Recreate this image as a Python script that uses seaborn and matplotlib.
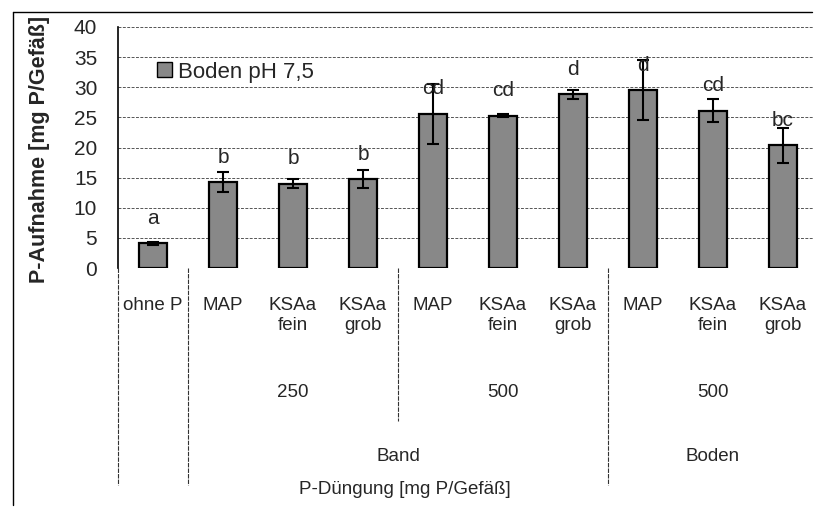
import pandas as pd
import seaborn as sns
import matplotlib.pyplot as plt
from matplotlib.lines import Line2D

# values
keys = ["ohneP", "MAP250", "fein250", "grob250", "MAP500", "fein500", "grob500",
        "MAPBoden", "feinBoden", "grobBoden"]
cat_labels = ["ohne P", "MAP", "KSAa\nfein", "KSAa\ngrob", "MAP", "KSAa\nfein",
              "KSAa\ngrob", "MAP", "KSAa\nfein", "KSAa\ngrob"]
uptake = [4.1, 14.3, 14.0, 14.8, 25.6, 25.3, 28.8, 29.5, 26.1, 20.4]
err = [0.2, 1.7, 0.7, 1.5, 5.0, 0.3, 0.8, 5.0, 1.9, 2.9]
letters = ["a", "b", "b", "b", "cd", "cd", "d", "d", "cd", "bc"]

rate_labels = ["250", "500", "500"]
rate_pos = [2, 5, 8]
place_labels = ["Band", "Boden"]
place_pos = [3.5, 8]

df = pd.DataFrame({"key": keys, "value": uptake})

sns.set_style("white")
plt.rcParams['font.family'] = ['Liberation Sans', 'DejaVu Sans']

fig = plt.figure(figsize=(8.14, 5.13), dpi=100)
ax = fig.add_axes([118 / 814, 245 / 513, 700 / 814, 241 / 513])

sns.barplot(data=df, x="key", y="value", color="#888888", saturation=1,
            width=0.4, edgecolor="black", linewidth=1.6, errorbar=None, ax=ax)
ax.errorbar(range(len(uptake)), uptake, yerr=err, fmt="none", ecolor="black",
            elinewidth=1.5, capsize=4, capthick=1.5, zorder=5)

for i, (v, l) in enumerate(zip(uptake, letters)):
    ax.annotate(l, (i, v), xytext=(0, 11), textcoords="offset points",
                ha="center", va="bottom", fontsize=15, zorder=6)

ax.set_ylim(0, 40)
ax.set_xlim(-0.5, 9.5)
ax.set_yticks(range(0, 41, 5))
ax.yaxis.grid(True, linestyle=(0, (3, 1.5)), color="#555555", linewidth=0.7)
ax.set_axisbelow(True)
for s in ["top", "right", "bottom"]:
    ax.spines[s].set_visible(False)
ax.spines["left"].set_linewidth(1.2)
ax.spines["left"].set_color("black")

ax.set_xticks(range(len(cat_labels)))
ax.set_xticklabels(cat_labels, fontsize=13.5, linespacing=1.25)
ax.tick_params(axis="x", length=0, pad=21)
ax.tick_params(axis="y", length=0, pad=15, labelsize=15)
ax.set_xlabel("")
ax.set_ylabel("P-Aufnahme [mg P/Gefäß]", fontsize=15.5, fontweight="bold")
ax.yaxis.set_label_coords(-0.097, 0.49)

# separator lines of the grouped category axis
xt = ax.get_xaxis_transform()
for xb, y_end in [(-0.5, -0.90), (0.5, -0.90), (3.5, -0.635), (6.5, -0.90)]:
    ax.plot([xb, xb], [0, y_end], transform=xt, color="#333333", lw=0.8,
            linestyle=(0, (4, 1)), clip_on=False)

for t, x in zip(rate_labels, rate_pos):
    ax.text(x, -0.515, t, transform=xt, ha="center", va="center", fontsize=13.5)
for t, x in zip(place_labels, place_pos):
    ax.text(x, -0.784, t, transform=xt, ha="center", va="center", fontsize=13.5)
ax.text(3.6, -0.921, "P-Düngung [mg P/Gefäß]", transform=xt, ha="center",
        va="center", fontsize=13.5)

leg = ax.legend(handles=[plt.Rectangle((0, 0), 1, 1, facecolor="#888888",
                                       edgecolor="black", linewidth=1)],
                labels=["Boden pH 7,5"], loc="center left",
                bbox_to_anchor=(0.056, 0.813), frameon=False, borderpad=0,
                borderaxespad=0, handlelength=0.65, handleheight=0.65,
                handletextpad=0.3, fontsize=16)

# outer chart frame (left and top edges)
fig.add_artist(Line2D([0.016, 0.016], [0.016, 0.977], color="black", lw=1.0))
fig.add_artist(Line2D([0.016, 0.998], [0.977, 0.977], color="black", lw=1.0))

plt.savefig("out.png", dpi=100)
